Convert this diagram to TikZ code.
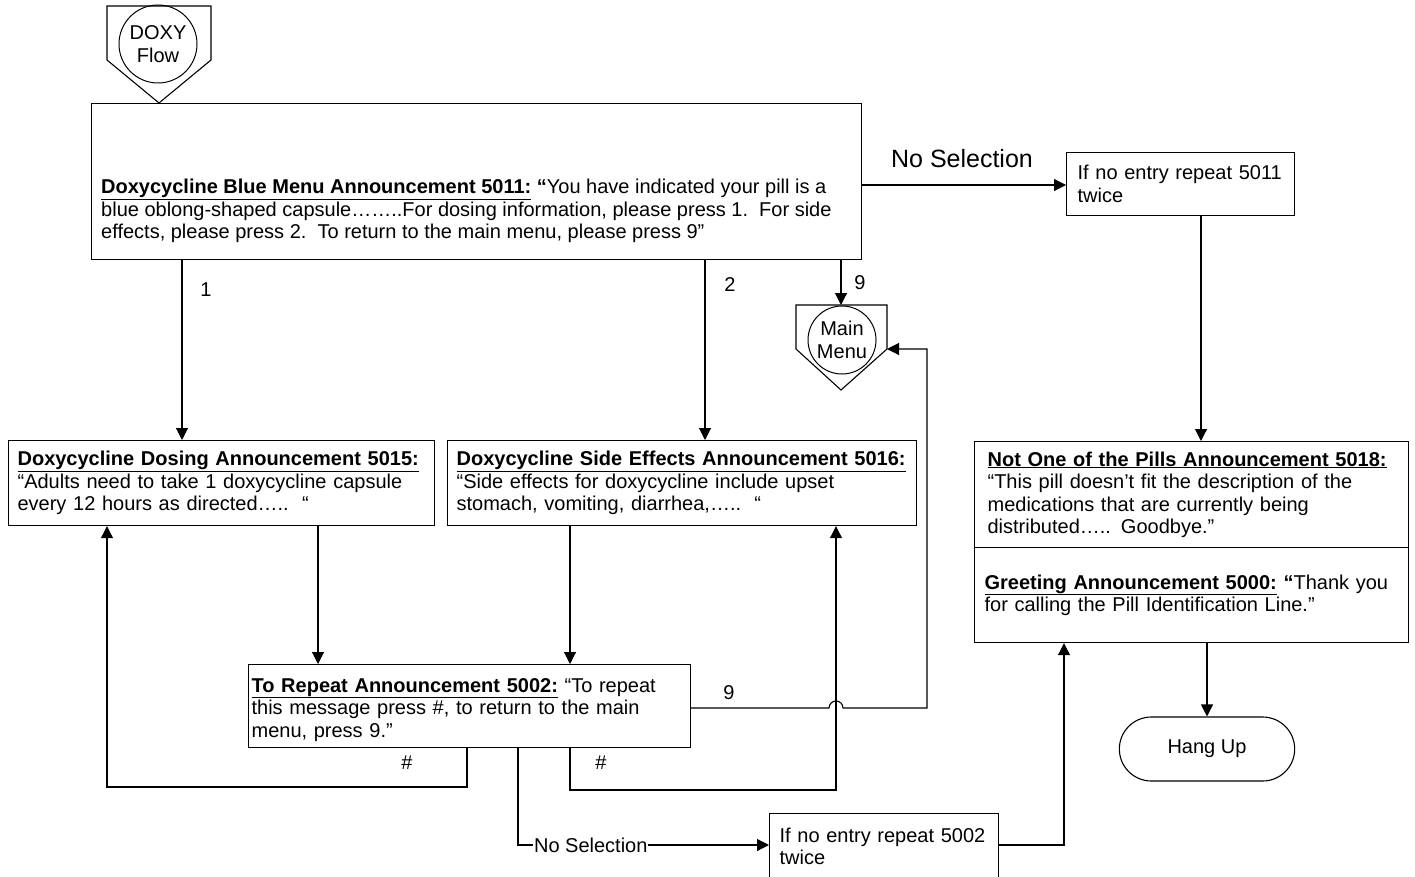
\documentclass[tikz,border=0pt]{standalone}
\usepackage{fontspec}
\setmainfont{Liberation Sans}
\usetikzlibrary{arrows.meta,shapes.misc}
\begin{document}
\begin{tikzpicture}[x=1pt,y=-1pt,
  every node/.style={font=\fontsize{20}{22.5}\selectfont},
  arr/.style={line width=1.1pt,-{Triangle[length=12pt,width=12pt]}},
  box/.style={draw,line width=1.2pt,rectangle,align=left,inner ysep=0pt,anchor=north west},
  lbl/.style={inner sep=1pt},
  conn/.style={line width=1.1pt}
]
\useasboundingbox[fill=white] (0,0) rectangle (1415,877);

% off-page connectors
\draw[conn] (107,6) -- (211,6) -- (211,60) -- (159,103) -- (107,60) -- cycle;
\node[draw,circle,minimum size=78pt,inner sep=0pt,align=center,line width=1pt] (doxy) at (158,44) {DOXY\\Flow};
\draw[conn] (796,305) -- (887,305) -- (887,349) -- (841,390) -- (796,349) -- cycle;
\node[draw,circle,minimum size=68pt,inner sep=0pt,align=center,line width=1pt] (mm) at (842,340) {Main\\Menu};

% boxes
\node[box,inner xsep=9pt,text width=752pt,minimum height=156pt] (blue) at (91,103) {};
\node[anchor=north west,inner sep=0pt,align=left] (bluetext) at (101,179) {\underline{\textbf{Doxycycline Blue Menu Announcement 5011:}} \textbf{“}You have indicated your pill is a\\
blue oblong-shaped capsule……..For dosing information, please press 1.\ \ For side\\
effects, please press 2.\ \ To return to the main menu, please press 9”};

\node[box,inner xsep=11pt,text width=206pt,minimum height=63pt] (n5011) at (1066,152) {If no entry repeat 5011\\twice};

\node[box,inner xsep=9pt,text width=408pt,minimum height=85pt] (dose) at (8,440) {\underline{\textbf{Doxycycline Dosing Announcement 5015:}}\\“Adults need to take 1 doxycycline capsule\\every 12 hours as directed…..\ \ “};

\node[box,inner xsep=9pt,text width=451pt,minimum height=85pt] (side) at (447,440) {\underline{\textbf{Doxycycline Side Effects Announcement 5016:}}\\“Side effects for doxycycline include upset\\stomach, vomiting, diarrhea,…..\ \ “};

\node[box,inner xsep=3pt,text width=436pt,minimum height=83pt] (rep) at (248,664) {\rule{0pt}{21pt}\underline{\textbf{To Repeat Announcement 5002:}} “To repeat\\this message press \#, to return to the main\\menu, press 9.”};

\node[box,inner xsep=13pt,text width=408pt,minimum height=106pt] (notone) at (974,441) {\underline{\textbf{Not One of the Pills Announcement 5018:}}\\“This pill doesn’t fit the description of the\\medications that are currently being\\distributed….. Goodbye.”};

\node[box,inner xsep=10pt,text width=414pt,minimum height=95pt] (greet) at (974,547) {\underline{\textbf{Greeting Announcement 5000:}} \textbf{“}Thank you\\for calling the Pill Identification Line.”};

\node[box,inner xsep=10pt,text width=209pt,minimum height=66pt] (n5002) at (769,813) {If no entry repeat 5002\\twice};

\node[draw,rounded rectangle,minimum width=182pt,minimum height=64pt,line width=1.1pt] (hang) at (1207,749) {Hang Up};

% helper coordinates
\coordinate (x1) at (182,0);
\coordinate (x2) at (705,0);
\coordinate (mmtop) at (841,305);
\coordinate (mmr) at (887,349);
\coordinate (x3) at (318,0);
\coordinate (x4) at (570,0);
\coordinate (x5) at (1201,0);
\coordinate (x6) at (467,0);
\coordinate (x7) at (107,0);
\coordinate (x8) at (836,0);
\coordinate (x9) at (927,0);
\coordinate (x10) at (518,0);
\coordinate (x11) at (1064,0);
\coordinate (y1) at (0,185);
\coordinate (y2) at (0,787);
\coordinate (y3) at (0,790);
\coordinate (y4) at (0,708);
\coordinate (y5) at (0,845);

% connectors
\draw[arr] (blue.south -| x1) -- (dose.north -| x1);
\draw[arr] (blue.south -| x2) -- (side.north -| x2);
\draw[arr] (blue.south -| mmtop) -- (mmtop);
\draw[arr] (blue.east |- y1) -- (n5011.west |- y1);
\draw[arr] (n5011.south -| x5) -- (notone.north -| x5);
\draw[arr] (dose.south -| x3) -- (rep.north -| x3);
\draw[arr] (side.south -| x4) -- (rep.north -| x4);
\draw[arr] (greet.south -| hang) -- (hang.north);
\draw[arr] (rep.south -| x6) -- (x6 |- y2) -- (x7 |- y2) -- (dose.south -| x7);
\draw[arr] (rep.south -| x4) -- (x4 |- y3) -- (x8 |- y3) -- (side.south -| x8);
\draw[arr] (rep.east |- y4) -- ([xshift=-7pt]x8 |- y4) arc[start angle=180,end angle=0,radius=7pt] -- (x9 |- y4) -- (x9 |- mmr) -- (mmr);
\draw[arr] (rep.south -| x10) -- (x10 |- y5) -- node[pos=0.29,fill=white,inner sep=1pt] (nosel2) {No Selection} (n5002.west |- y5);
\draw[arr] (n5002.east |- y5) -- (x11 |- y5) -- (greet.south -| x11);

% labels
\node[lbl] (l1) at (206,290) {1};
\node[lbl] (l2) at (730,285) {2};
\node[lbl] (l9) at (860,283) {9};
\node[lbl] (l9b) at (729,693) {9};
\node[lbl] (lh1) at (407,763) {\#};
\node[lbl] (lh2) at (601,763) {\#};
\node[lbl,font=\fontsize{25}{28}\selectfont] (nosel1) at (962,159) {No Selection};
\end{tikzpicture}
\end{document}
